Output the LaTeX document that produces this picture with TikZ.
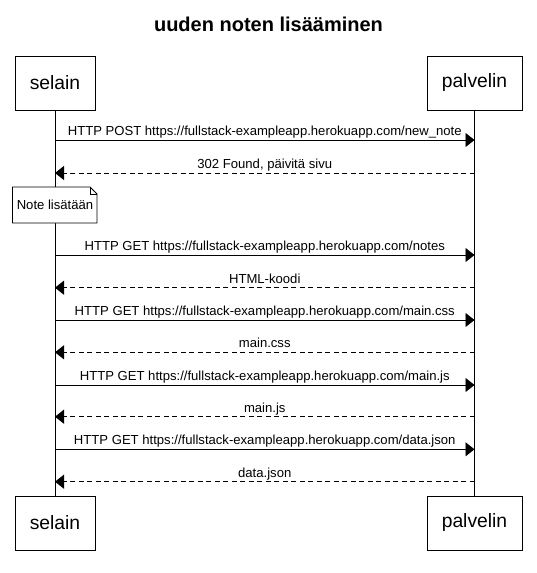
\documentclass[tikz,border=0pt]{standalone}
\usepackage{fontspec}
\setmainfont{Liberation Sans}
\usetikzlibrary{arrows.meta}
\begin{document}
\begin{tikzpicture}[x=1pt,y=-1pt,
  actor/.style={draw=black, line width=0.9pt, fill=white, minimum height=54pt, font=\fontsize{19.3}{22}\selectfont, inner sep=0pt},
  life/.style={line width=0.9pt},
  msgline/.style={line width=0.9pt, -{Triangle[length=9pt,width=14pt]}},
  reply/.style={msgline, dash pattern=on 5pt off 3.5pt},
  msglabel/.style={font=\fontsize{13.1}{15}\selectfont, inner sep=0pt, anchor=base, midway, yshift=4.5pt},
  notebox/.style={draw=black, line width=0.9pt, fill=white},
  notetext/.style={font=\fontsize{13.1}{15}\selectfont, inner sep=0pt}]
\useasboundingbox (0,0) rectangle (537,573);
\fill[white] (0,0) rectangle (537,573);

% title
\node[anchor=base, font=\fontsize{20}{24}\selectfont\bfseries] (title) at (268.5,31.5) {uuden noten lisääminen};

% actors
\node[actor, minimum width=80pt] (selT) at (55,83) {selain};
\node[actor, minimum width=95pt] (palT) at (474.5,83) {palvelin};
\node[actor, minimum width=80pt] (selB) at (55,523) {selain};
\node[actor, minimum width=95pt] (palB) at (474.5,523) {palvelin};

% lifelines
\draw[life] (selT.south) -- (selB.north);
\draw[life] (palT.south) -- (palB.north);

% message end points
\coordinate (s1) at (55,140);    \coordinate (p1) at (474.5,140);
\coordinate (s2) at (55,173);    \coordinate (p2) at (474.5,173);
\coordinate (s3) at (55,255);    \coordinate (p3) at (474.5,255);
\coordinate (s4) at (55,287.7);  \coordinate (p4) at (474.5,287.7);
\coordinate (s5) at (55,320);    \coordinate (p5) at (474.5,320);
\coordinate (s6) at (55,352.3);  \coordinate (p6) at (474.5,352.3);
\coordinate (s7) at (55,385);    \coordinate (p7) at (474.5,385);
\coordinate (s8) at (55,416.7);  \coordinate (p8) at (474.5,416.7);
\coordinate (s9) at (55,449.3);  \coordinate (p9) at (474.5,449.3);
\coordinate (s10) at (55,481.7); \coordinate (p10) at (474.5,481.7);

\draw[msgline] (s1) -- node[msglabel] {HTTP POST https://fullstack-exampleapp.herokuapp.com/new\_note} (p1);
\draw[reply] (p2) -- node[msglabel] {302 Found, päivitä sivu} (s2);
\draw[msgline] (s3) -- node[msglabel] {HTTP GET https://fullstack-exampleapp.herokuapp.com/notes} (p3);
\draw[reply] (p4) -- node[msglabel] {HTML-koodi} (s4);
\draw[msgline] (s5) -- node[msglabel] {HTTP GET https://fullstack-exampleapp.herokuapp.com/main.css} (p5);
\draw[reply] (p6) -- node[msglabel] {main.css} (s6);
\draw[msgline] (s7) -- node[msglabel] {HTTP GET https://fullstack-exampleapp.herokuapp.com/main.js} (p7);
\draw[reply] (p8) -- node[msglabel] {main.js} (s8);
\draw[msgline] (s9) -- node[msglabel] {HTTP GET https://fullstack-exampleapp.herokuapp.com/data.json} (p9);
\draw[reply] (p10) -- node[msglabel] {data.json} (s10);

% note
\draw[notebox] (12.5,187) -- (90,187) -- (97,194) -- (97,223) -- (12.5,223) -- cycle;
\draw[line width=0.9pt] (90,187) -- (90,194) -- (97,194);
\node[notetext] (note) at (55,205) {Note lisätään};
\end{tikzpicture}
\end{document}
